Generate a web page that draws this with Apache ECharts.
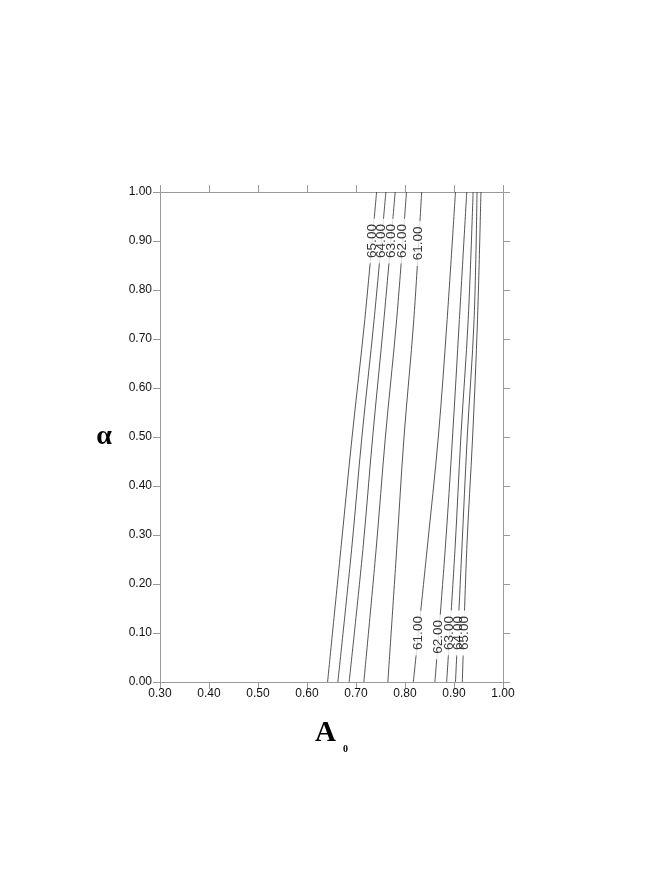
<!DOCTYPE html>
<html>
<head>
<meta charset="utf-8">
<script src="https://cdn.jsdelivr.net/npm/echarts@6/dist/echarts.min.js"></script>
<style>
html,body{margin:0;padding:0;background:#fff;}
#chart{width:664px;height:870px;}
</style>
</head>
<body>
<div id="chart"></div>
<script>
// alpha positions at which each contour line's A0 value was read
const alphaLevels = [0.00, 0.27, 0.50, 0.74, 1.00];
// contour lines, left group (A0 values at alphaLevels)
const left65 = [0.642, 0.669, 0.692, 0.718, 0.742];
const left64 = [0.663, 0.691, 0.712, 0.737, 0.761];
const left63 = [0.686, 0.714, 0.734, 0.757, 0.780];
const left62 = [0.716, 0.741, 0.760, 0.783, 0.803];
const left61 = [0.765, 0.783, 0.798, 0.818, 0.834];
// contour lines, right group
const right61 = [0.817, 0.845, 0.868, 0.886, 0.903];
const right62 = [0.861, 0.882, 0.897, 0.911, 0.926];
const right63 = [0.885, 0.902, 0.914, 0.929, 0.939];
const right64 = [0.903, 0.916, 0.927, 0.941, 0.947];
const right65 = [0.917, 0.926, 0.938, 0.948, 0.955];
// contour level names
const leftNames = ['65.00', '64.00', '63.00', '62.00', '61.00'];
const rightNames = ['61.00', '62.00', '63.00', '64.00', '65.00'];
// alpha where the label sits on each line
const leftLabelAlpha = [0.90, 0.90, 0.90, 0.90, 0.895];
const rightLabelAlpha = [0.10, 0.092, 0.10, 0.10, 0.10];
// axis ticks
const xTickLabels = ['0.30', '0.40', '0.50', '0.60', '0.70', '0.80', '0.90', '1.00'];
const yTickLabels = ['0.00', '0.10', '0.20', '0.30', '0.40', '0.50', '0.60', '0.70', '0.80', '0.90', '1.00'];

const leftLines = [left65, left64, left63, left62, left61];
const rightLines = [right61, right62, right63, right64, right65];

function interpAt(line, a) {
  for (let i = 0; i < alphaLevels.length - 1; i++) {
    if (a >= alphaLevels[i] && a <= alphaLevels[i + 1]) {
      const t = (a - alphaLevels[i]) / (alphaLevels[i + 1] - alphaLevels[i]);
      return line[i] + t * (line[i + 1] - line[i]);
    }
  }
  return line[line.length - 1];
}

const series = [];
const allLines = leftLines.concat(rightLines);
allLines.forEach(function (line) {
  series.push({
    type: 'line',
    data: line.map(function (x, i) { return [x, alphaLevels[i]]; }),
    showSymbol: false,
    symbol: 'none',
    smooth: 0.35,
    lineStyle: { color: '#2a2a2a', width: 0.8 },
    silent: true,
    z: 2
  });
});

const labelPoints = [];
leftLines.forEach(function (line, i) {
  labelPoints.push({ value: [interpAt(line, leftLabelAlpha[i]), leftLabelAlpha[i]], name: leftNames[i] });
});
rightLines.forEach(function (line, i) {
  labelPoints.push({ value: [interpAt(line, rightLabelAlpha[i]), rightLabelAlpha[i]], name: rightNames[i] });
});

const labelFont = { fontFamily: 'Liberation Sans, Arial, sans-serif', fontSize: 13.5 };

series.push({
  type: 'scatter',
  data: labelPoints,
  symbolSize: 1,
  itemStyle: { color: 'rgba(0,0,0,0)' },
  silent: true,
  z: 3,
  label: Object.assign({
    show: true, position: 'inside', rotate: 90,
    formatter: function (p) { return p.name; },
    color: 'rgba(0,0,0,0)',
    backgroundColor: '#ffffff',
    padding: [0, 5, 0, 6]
  }, labelFont)
});
series.push({
  type: 'scatter',
  data: labelPoints,
  symbolSize: 1,
  itemStyle: { color: 'rgba(0,0,0,0)' },
  silent: true,
  z: 4,
  label: Object.assign({
    show: true, position: 'inside', rotate: 90,
    formatter: function (p) { return p.name; },
    color: '#000',
    fontWeight: 500
  }, labelFont)
});

const axisGray = '#9a9a9a';
const tickLabelStyle = { color: '#111', fontFamily: 'Liberation Sans, Arial, sans-serif', fontSize: 12 };

function xLabel(v) {
  const idx = Math.round((v - 0.3) / 0.1);
  return xTickLabels[idx] !== undefined ? xTickLabels[idx] : '';
}
function yLabel(v) {
  const idx = Math.round(v / 0.1);
  return yTickLabels[idx] !== undefined ? yTickLabels[idx] : '';
}

const axisLineStyle = { show: true, onZero: false, lineStyle: { color: axisGray, width: 1 } };
const axisTickStyle = { show: true, inside: false, length: 7, lineStyle: { color: axisGray } };

const option = {
  animation: false,
  backgroundColor: '#ffffff',
  grid: { left: 160, right: 161, top: 192, bottom: 188 },
  xAxis: [
    {
      type: 'value', position: 'bottom', min: 0.3, max: 1.0, interval: 0.1,
      axisLine: axisLineStyle,
      axisTick: axisTickStyle,
      axisLabel: Object.assign({ margin: 6, formatter: xLabel }, tickLabelStyle),
      splitLine: { show: false },
      name: '{a|A}{s|0}',
      nameLocation: 'middle',
      nameGap: 37,
      nameTextStyle: {
        rich: {
          a: { fontFamily: 'Liberation Serif, Times New Roman, serif', fontWeight: 'bold', fontSize: 29, lineHeight: 34, verticalAlign: 'top', color: '#000' },
          s: { fontFamily: 'Liberation Serif, Times New Roman, serif', fontWeight: 'bold', fontSize: 10, lineHeight: 10, verticalAlign: 'top', padding: [25, 0, 0, 7], color: '#000' }
        }
      }
    },
    {
      type: 'value', position: 'top', min: 0.3, max: 1.0, interval: 0.1,
      axisLine: axisLineStyle,
      axisTick: axisTickStyle,
      axisLabel: { show: false },
      splitLine: { show: false }
    }
  ],
  yAxis: [
    {
      type: 'value', position: 'left', min: 0, max: 1.0, interval: 0.1,
      axisLine: axisLineStyle,
      axisTick: axisTickStyle,
      axisLabel: Object.assign({ margin: 8, formatter: yLabel }, tickLabelStyle),
      splitLine: { show: false },
      name: 'α',
      nameLocation: 'middle',
      nameRotate: 0,
      nameGap: 48,
      nameTextStyle: { fontFamily: 'Liberation Serif, Times New Roman, serif', fontWeight: 'bold', fontSize: 28, color: '#000', padding: [4, 0, 0, 0] }
    },
    {
      type: 'value', position: 'right', min: 0, max: 1.0, interval: 0.1,
      axisLine: axisLineStyle,
      axisTick: axisTickStyle,
      axisLabel: { show: false },
      splitLine: { show: false }
    }
  ],
  series: series
};

const chart = echarts.init(document.getElementById('chart'), null, { renderer: 'canvas' });
chart.setOption(option);
</script>
</body>
</html>
